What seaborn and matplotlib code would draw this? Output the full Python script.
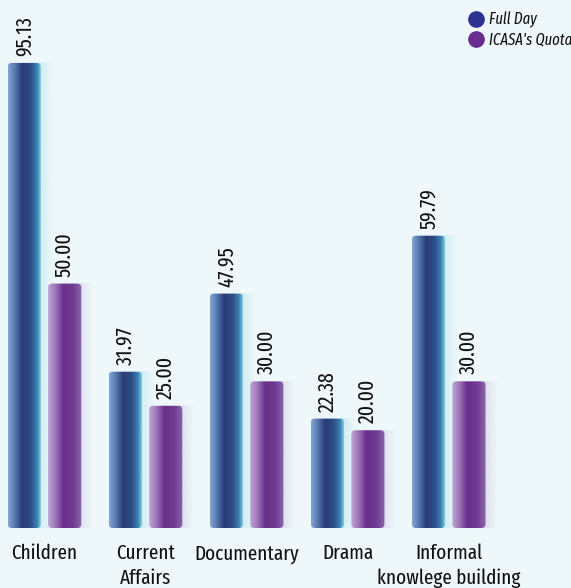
import numpy as np
import pandas as pd
import matplotlib
matplotlib.use("Agg")
import matplotlib.pyplot as plt
from matplotlib.colors import LinearSegmentedColormap, to_rgb
from matplotlib.patches import FancyBboxPatch
from matplotlib.lines import Line2D
import seaborn as sns

# Genre shares: full-day output vs. the regulator's quota
categories = ["Children", "Current\nAffairs", "Documentary", "Drama", "Informal\nknowlege building"]
full_day = [95.13, 31.97, 47.95, 22.38, 59.79]
icasa_quota = [50.00, 25.00, 30.00, 20.00, 30.00]
series_names = ["Full Day", "ICASA's Quota"]

df = pd.DataFrame({
    "genre": categories * 2,
    "value": full_day + icasa_quota,
    "series": [series_names[0]] * len(categories) + [series_names[1]] * len(categories),
})

BG = "#eef7f9"
FONT = ["Fira Sans Extra Condensed", "DejaVu Sans"]
sns.set_theme(style="white")
plt.rcParams["font.family"] = FONT

fig = plt.figure(figsize=(5.71, 5.88), dpi=100, facecolor=BG)
ax = fig.add_axes([0, 60 / 588, 1, 528 / 588])
ax.set_facecolor(BG)

sns.barplot(data=df, x="genre", y="value", hue="series", ax=ax,
            order=categories, hue_order=series_names, width=0.8, gap=0.18,
            palette=["#2e3192", "#6a2c8f"], legend=False)

ax.set_xlim(-0.44, 5.21)
ax.set_ylim(0, 108.0)
for s in ax.spines.values():
    s.set_visible(False)
ax.set_yticks([])
ax.set_xlabel("")
ax.set_ylabel("")
ax.tick_params(axis="x", length=0, pad=11.5)
for lab in ax.get_xticklabels():
    lab.set_fontsize(15)
    lab.set_color("#111111")
    lab.set_linespacing(1.3)
    lab.set_verticalalignment("top")

# Cylinder-like shading across each bar
blue_cmap = LinearSegmentedColormap.from_list("blue_cyl", [
    (0.0, "#84a8d2"), (0.18, "#5b7db3"), (0.42, "#2a3b77"),
    (0.68, "#2e4f8b"), (0.86, "#3c84b3"), (1.0, "#9adcec")])
purple_cmap = LinearSegmentedColormap.from_list("purple_cyl", [
    (0.0, "#c0a6d2"), (0.2, "#a07cbd"), (0.45, "#6a2e8a"),
    (0.75, "#703c92"), (1.0, "#8a68ab")])
shadow_colors = ["#c8ecf4", "#dcdcee"]

px_x = 1 / 101.0
px_y = 108.0 / 528.0
grad = np.linspace(0, 1, 256).reshape(1, -1)

n = len(categories)
for i, bar in enumerate(ax.patches[: 2 * n]):
    hue_idx = i // n
    x0, w, h = bar.get_x(), bar.get_width(), bar.get_height()
    bar.set_visible(False)

    # soft glow to the right of the bar
    sw = 12 * px_x
    rgb = np.array(to_rgb(shadow_colors[hue_idx]))
    sh = np.zeros((1, 64, 4))
    sh[..., :3] = rgb
    sh[..., 3] = np.linspace(1, 0, 64) ** 1.3
    ax.imshow(sh, extent=(x0 + w - 2 * px_x, x0 + w + sw, 0, h),
              aspect="auto", interpolation="bilinear", zorder=1)

    clip = FancyBboxPatch((x0, 0), w, h,
                          boxstyle=f"round,pad=0,rounding_size={4 * px_x}",
                          mutation_aspect=px_y / px_x,
                          transform=ax.transData, facecolor="none", edgecolor="none")
    ax.add_patch(clip)
    cmap = blue_cmap if hue_idx == 0 else purple_cmap
    im = ax.imshow(grad, cmap=cmap, extent=(x0, x0 + w, 0, h), aspect="auto",
                   interpolation="bilinear", zorder=2)
    im.set_clip_path(clip)

    value = (full_day if hue_idx == 0 else icasa_quota)[i % n]
    ax.text(x0 + w / 2, h + 7 * px_y, f"{value:.2f}", rotation=90,
            ha="center", va="bottom", fontsize=15.5, color="#111111", zorder=3)

ax.set_xlim(-0.44, 5.21)
ax.set_ylim(0, 108.0)

handles = [Line2D([], [], marker="o", linestyle="", markersize=11,
                  markerfacecolor=c, markeredgecolor=c)
           for c in ["#2e3192", "#6a2c8f"]]
leg = fig.legend(handles, series_names, loc="upper left",
                 bbox_to_anchor=(468 / 571, 1 - 12 / 588), frameon=False,
                 handletextpad=0.3, labelspacing=0.2, borderaxespad=0,
                 borderpad=0, handlelength=1.0,
                 prop={"family": FONT, "style": "italic", "size": 11.5})
for t in leg.get_texts():
    t.set_color("#111111")

fig.savefig("out.png", dpi=100, facecolor=BG)
